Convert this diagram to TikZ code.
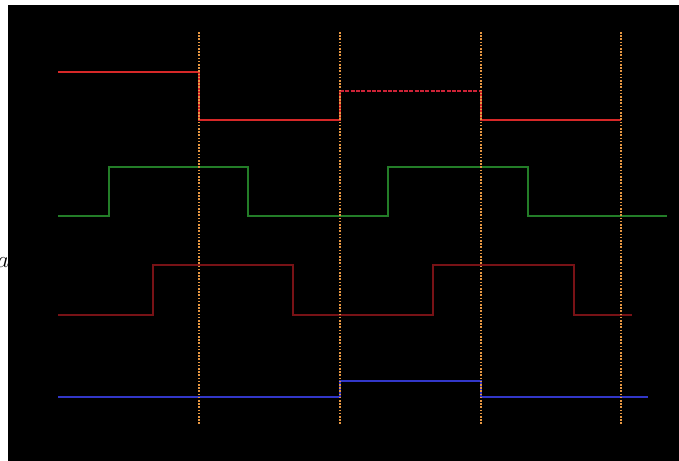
\documentclass[tikz,border=0pt]{standalone}
\begin{document}
\begin{tikzpicture}[x=0.75pt,y=-0.75pt,
  sig/.style={line join=miter},
  topsig/.style={sig,draw={rgb,255:red,215;green,40;blue,40},line width=2.2pt},
  topthin/.style={draw={rgb,255:red,205;green,35;blue,55},line width=1.2pt,dash pattern=on 3pt off 1pt},
  greensig/.style={sig,draw={rgb,255:red,35;green,125;blue,40},line width=1.5pt},
  darkredsig/.style={sig,draw={rgb,255:red,120;green,18;blue,22},line width=1.5pt},
  bluesig/.style={sig,draw={rgb,255:red,50;green,55;blue,200},line width=1.5pt},
  clockline/.style={draw={rgb,255:red,230;green,150;blue,65},line width=1.5pt,dash pattern=on 1.2pt off 1.2pt}]
\useasboundingbox (0,0) rectangle (679,461);
\fill[white] (0,0) rectangle (679,461);
\node[font=\LARGE,anchor=center,inner sep=0pt] (lbl) at (3,263) {$a$};
\fill[black] (8,5) rectangle (679,461);
% top red signal
\draw[topsig] (58,72) -- (199,72) -- (199,120) -- (340,120) -- (340,91);
\draw[topthin] (340,91) -- (481,91);
\draw[topsig] (481,91) -- (481,120) -- (621,120);
% green
\draw[greensig] (58,216) -- (109,216) -- (109,167) -- (248,167) -- (248,216) -- (388,216) -- (388,167) -- (528,167) -- (528,216) -- (667,216);
% dark red
\draw[darkredsig] (58,315) -- (153,315) -- (153,265) -- (293,265) -- (293,315) -- (433,315) -- (433,265) -- (574,265) -- (574,315) -- (632,315);
% blue
\draw[bluesig] (58,397) -- (340,397) -- (340,381) -- (481,381) -- (481,397) -- (648,397);
% dotted vertical lines
\foreach \xx/\nm in {199/c1,340/c2,481/c3,621/c4}{
  \coordinate (\nm t) at (\xx,32);
  \coordinate (\nm b) at (\xx,425);
  \draw[clockline] (\nm t) -- (\nm b);
}
\end{tikzpicture}
\end{document}
